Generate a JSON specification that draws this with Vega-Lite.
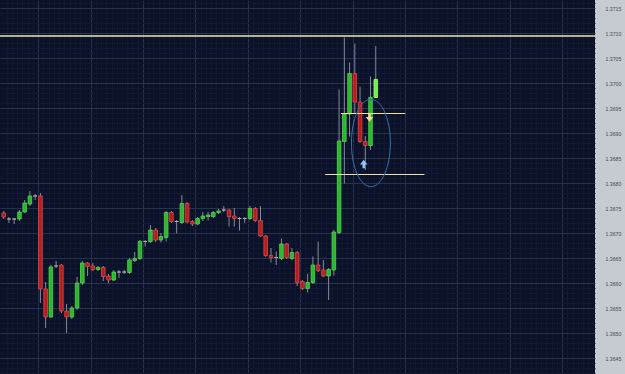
{
  "$schema": "https://vega.github.io/schema/vega-lite/v6.json",
  "width": 595,
  "height": 374,
  "autosize": "none",
  "padding": {"left": 0, "top": 0, "right": 30, "bottom": 0},
  "background": "#c6cad1",
  "view": {"fill": "#0a1128", "stroke": null},
  "resolve": {"axis": {"x": "independent", "y": "independent"}},
  "datasets": {
    "candles": [
      {"t":0,"o":1.36740,"h":1.36744,"l":1.36728,"c":1.36732,"d":"down"},
      {"t":1,"o":1.36728,"h":1.36732,"l":1.36720,"c":1.36728,"d":"flat"},
      {"t":2,"o":1.36728,"h":1.36730,"l":1.36718,"c":1.36728,"d":"flat"},
      {"t":3,"o":1.36728,"h":1.36746,"l":1.36724,"c":1.36742,"d":"up"},
      {"t":4,"o":1.36742,"h":1.36766,"l":1.36740,"c":1.36760,"d":"up"},
      {"t":5,"o":1.36758,"h":1.36784,"l":1.36754,"c":1.36774,"d":"up"},
      {"t":6,"o":1.36774,"h":1.36778,"l":1.36766,"c":1.36774,"d":"flat"},
      {"t":7,"o":1.36774,"h":1.36780,"l":1.36560,"c":1.36588,"d":"down"},
      {"t":8,"o":1.36588,"h":1.36602,"l":1.36510,"c":1.36532,"d":"down"},
      {"t":9,"o":1.36532,"h":1.36636,"l":1.36530,"c":1.36632,"d":"up"},
      {"t":10,"o":1.36634,"h":1.36644,"l":1.36630,"c":1.36634,"d":"flat"},
      {"t":11,"o":1.36636,"h":1.36638,"l":1.36540,"c":1.36544,"d":"down"},
      {"t":12,"o":1.36544,"h":1.36558,"l":1.36500,"c":1.36532,"d":"down"},
      {"t":13,"o":1.36532,"h":1.36554,"l":1.36528,"c":1.36550,"d":"up"},
      {"t":14,"o":1.36550,"h":1.36612,"l":1.36546,"c":1.36600,"d":"up"},
      {"t":15,"o":1.36600,"h":1.36644,"l":1.36596,"c":1.36640,"d":"up"},
      {"t":16,"o":1.36640,"h":1.36642,"l":1.36614,"c":1.36633,"d":"down"},
      {"t":17,"o":1.36634,"h":1.36640,"l":1.36624,"c":1.36627,"d":"down"},
      {"t":18,"o":1.36627,"h":1.36634,"l":1.36624,"c":1.36631,"d":"up"},
      {"t":19,"o":1.36631,"h":1.36634,"l":1.36604,"c":1.36613,"d":"down"},
      {"t":20,"o":1.36614,"h":1.36618,"l":1.36600,"c":1.36606,"d":"down"},
      {"t":21,"o":1.36606,"h":1.36626,"l":1.36604,"c":1.36622,"d":"up"},
      {"t":22,"o":1.36622,"h":1.36626,"l":1.36610,"c":1.36622,"d":"flat"},
      {"t":23,"o":1.36622,"h":1.36626,"l":1.36618,"c":1.36622,"d":"flat"},
      {"t":24,"o":1.36621,"h":1.36650,"l":1.36618,"c":1.36646,"d":"up"},
      {"t":25,"o":1.36645,"h":1.36662,"l":1.36642,"c":1.36649,"d":"up"},
      {"t":26,"o":1.36649,"h":1.36686,"l":1.36646,"c":1.36683,"d":"up"},
      {"t":27,"o":1.36683,"h":1.36686,"l":1.36673,"c":1.36683,"d":"flat"},
      {"t":28,"o":1.36683,"h":1.36716,"l":1.36680,"c":1.36706,"d":"up"},
      {"t":29,"o":1.36706,"h":1.36710,"l":1.36682,"c":1.36686,"d":"down"},
      {"t":30,"o":1.36686,"h":1.36700,"l":1.36681,"c":1.36693,"d":"up"},
      {"t":31,"o":1.36691,"h":1.36744,"l":1.36683,"c":1.36741,"d":"up"},
      {"t":32,"o":1.36741,"h":1.36744,"l":1.36720,"c":1.36723,"d":"down"},
      {"t":33,"o":1.36723,"h":1.36726,"l":1.36699,"c":1.36723,"d":"flat"},
      {"t":34,"o":1.36721,"h":1.36776,"l":1.36718,"c":1.36759,"d":"up"},
      {"t":35,"o":1.36759,"h":1.36762,"l":1.36719,"c":1.36722,"d":"down"},
      {"t":36,"o":1.36723,"h":1.36726,"l":1.36714,"c":1.36718,"d":"down"},
      {"t":37,"o":1.36718,"h":1.36732,"l":1.36716,"c":1.36729,"d":"up"},
      {"t":38,"o":1.36729,"h":1.36742,"l":1.36724,"c":1.36734,"d":"up"},
      {"t":39,"o":1.36733,"h":1.36742,"l":1.36725,"c":1.36736,"d":"up"},
      {"t":40,"o":1.36733,"h":1.36744,"l":1.36730,"c":1.36741,"d":"up"},
      {"t":41,"o":1.36741,"h":1.36748,"l":1.36738,"c":1.36744,"d":"up"},
      {"t":42,"o":1.36746,"h":1.36754,"l":1.36742,"c":1.36746,"d":"flat"},
      {"t":43,"o":1.36746,"h":1.36748,"l":1.36713,"c":1.36733,"d":"down"},
      {"t":44,"o":1.36734,"h":1.36750,"l":1.36713,"c":1.36729,"d":"down"},
      {"t":45,"o":1.36729,"h":1.36732,"l":1.36705,"c":1.36729,"d":"flat"},
      {"t":46,"o":1.36729,"h":1.36732,"l":1.36720,"c":1.36729,"d":"flat"},
      {"t":47,"o":1.36729,"h":1.36754,"l":1.36726,"c":1.36749,"d":"up"},
      {"t":48,"o":1.36749,"h":1.36752,"l":1.36722,"c":1.36725,"d":"down"},
      {"t":49,"o":1.36725,"h":1.36754,"l":1.36692,"c":1.36694,"d":"down"},
      {"t":50,"o":1.36694,"h":1.36696,"l":1.36652,"c":1.36655,"d":"down"},
      {"t":51,"o":1.36655,"h":1.36670,"l":1.36641,"c":1.36651,"d":"down"},
      {"t":52,"o":1.36651,"h":1.36663,"l":1.36636,"c":1.36651,"d":"flat"},
      {"t":53,"o":1.36649,"h":1.36689,"l":1.36646,"c":1.36678,"d":"up"},
      {"t":54,"o":1.36678,"h":1.36680,"l":1.36648,"c":1.36651,"d":"down"},
      {"t":55,"o":1.36649,"h":1.36670,"l":1.36646,"c":1.36661,"d":"up"},
      {"t":56,"o":1.36661,"h":1.36664,"l":1.36594,"c":1.36601,"d":"down"},
      {"t":57,"o":1.36603,"h":1.36606,"l":1.36586,"c":1.36589,"d":"down"},
      {"t":58,"o":1.36589,"h":1.36618,"l":1.36581,"c":1.36601,"d":"up"},
      {"t":59,"o":1.36601,"h":1.36653,"l":1.36598,"c":1.36636,"d":"up"},
      {"t":60,"o":1.36636,"h":1.36683,"l":1.36622,"c":1.36625,"d":"down"},
      {"t":61,"o":1.36626,"h":1.36646,"l":1.36612,"c":1.36614,"d":"down"},
      {"t":62,"o":1.36614,"h":1.36630,"l":1.36566,"c":1.36627,"d":"up"},
      {"t":63,"o":1.36626,"h":1.36706,"l":1.36615,"c":1.36702,"d":"up"},
      {"t":64,"o":1.36701,"h":1.36987,"l":1.36698,"c":1.36884,"d":"up"},
      {"t":65,"o":1.36883,"h":1.37091,"l":1.36799,"c":1.36938,"d":"up"},
      {"t":66,"o":1.36938,"h":1.37041,"l":1.36893,"c":1.37019,"d":"up"},
      {"t":67,"o":1.37019,"h":1.37079,"l":1.36939,"c":1.36962,"d":"down"},
      {"t":68,"o":1.36962,"h":1.36993,"l":1.36880,"c":1.36883,"d":"down"},
      {"t":69,"o":1.36883,"h":1.36894,"l":1.36826,"c":1.36875,"d":"down"},
      {"t":70,"o":1.36875,"h":1.37013,"l":1.36866,"c":1.36971,"d":"up"},
      {"t":71,"o":1.36971,"h":1.37074,"l":1.36970,"c":1.37007,"d":"last"}
    ],
    "levels": [
      {"y":1.37094},
      {"y":1.36939,"t":64.35,"t2":76.66},
      {"y":1.36817,"t":61.35,"t2":80.3}
    ],
    "marks": [
      {"kind":"ellipse","t":70.07,"y":1.36880},
      {"kind":"down","t":69.8,"y":1.36931},
      {"kind":"up","t":68.7,"y":1.36838}
    ]
  },
  "layer": [
    {
      "data": {"name": "candles"},
      "mark": {"type": "rule", "color": "#848b9a", "strokeWidth": 1},
      "encoding": {
        "x": {
          "field": "t", "type": "quantitative", "title": null,
          "scale": {"domain": [0.244, 111.88], "nice": false, "zero": false},
          "axis": {
            "orient": "bottom", "labels": false, "ticks": false, "domain": false, "title": null,
            "grid": true,
            "values": [0.57,1.57,2.57,3.57,4.57,5.57,6.57,7.57,8.57,9.57,10.57,11.57,12.57,13.57,14.57,15.57,16.57,17.57,18.57,19.57,20.57,21.57,22.57,23.57,24.57,25.57,26.57,27.57,28.57,29.57,30.57,31.57,32.57,33.57,34.57,35.57,36.57,37.57,38.57,39.57,40.57,41.57,42.57,43.57,44.57,45.57,46.57,47.57,48.57,49.57,50.57,51.57,52.57,53.57,54.57,55.57,56.57,57.57,58.57,59.57,60.57,61.57,62.57,63.57,64.57,65.57,66.57,67.57,68.57,69.57,70.57,71.57,72.57,73.57,74.57,75.57,76.57,77.57,78.57,79.57,80.57,81.57,82.57,83.57,84.57,85.57,86.57,87.57,88.57,89.57,90.57,91.57,92.57,93.57,94.57,95.57,96.57,97.57,98.57,99.57,100.57,101.57,102.57,103.57,104.57,105.57,106.57,107.57,108.57,109.57,110.57,111.57],
            "gridColor": {"condition": {"test": "abs((datum.value - 6.57) / 10 - round((datum.value - 6.57) / 10)) < 0.01", "value": "#27324e"}, "value": "#111930"},
            "gridWidth": 1
          }
        },
        "y": {
          "field": "l", "type": "quantitative", "title": null,
          "scale": {"domain": [1.36418, 1.37166], "nice": false, "zero": false},
          "axis": {
            "orient": "right", "ticks": false, "domain": false, "title": null,
            "grid": true,
            "values": [1.3642,1.3643,1.3644,1.3645,1.3646,1.3647,1.3648,1.3649,1.365,1.3651,1.3652,1.3653,1.3654,1.3655,1.3656,1.3657,1.3658,1.3659,1.366,1.3661,1.3662,1.3663,1.3664,1.3665,1.3666,1.3667,1.3668,1.3669,1.367,1.3671,1.3672,1.3673,1.3674,1.3675,1.3676,1.3677,1.3678,1.3679,1.368,1.3681,1.3682,1.3683,1.3684,1.3685,1.3686,1.3687,1.3688,1.3689,1.369,1.3691,1.3692,1.3693,1.3694,1.3695,1.3696,1.3697,1.3698,1.3699,1.37,1.3701,1.3702,1.3703,1.3704,1.3705,1.3706,1.3707,1.3708,1.3709,1.371,1.3711,1.3712,1.3713,1.3714,1.3715,1.3716],
            "gridColor": {"condition": {"test": "abs(datum.value * 2000 - round(datum.value * 2000)) < 0.01", "value": "#27324e"}, "value": "#111930"},
            "gridWidth": 1,
            "labelExpr": "abs(datum.value * 2000 - round(datum.value * 2000)) < 0.01 ? format(datum.value, '.4f') : ''",
            "labelOverlap": false,
            "labelPadding": 10,
            "labelAlign": "left",
            "labelBaseline": "middle",
            "labelFont": "Liberation Sans",
            "labelFontSize": 5.2,
            "labelColor": "#454a55"
          }
        },
        "y2": {"field": "h"}
      }
    },
    {
      "data": {"name": "candles"},
      "mark": {"type": "bar", "size": 3.6, "strokeWidth": 0.8},
      "encoding": {
        "x": {"field": "t", "type": "quantitative", "axis": null},
        "y": {"field": "o", "type": "quantitative", "axis": null},
        "y2": {"field": "c"},
        "fill": {"field": "d", "type": "nominal", "legend": null,
          "scale": {"domain": ["up", "down", "flat", "last"], "range": ["#2db52d", "#b51c1c", "#b4b6ba", "#6cf046"]}},
        "stroke": {"field": "d", "type": "nominal", "legend": null,
          "scale": {"domain": ["up", "down", "flat", "last"], "range": ["#55d455", "#e04a4a", "#b4b6ba", "#a6ff88"]}}
      }
    },
    {
      "data": {"name": "levels"},
      "transform": [{"filter": "datum.t == null"}],
      "mark": {"type": "rule", "color": "#efe7ad", "strokeWidth": 1.5},
      "encoding": {
        "y": {"field": "y", "type": "quantitative", "axis": null}
      }
    },
    {
      "data": {"name": "levels"},
      "transform": [{"filter": "datum.t != null"}],
      "mark": {"type": "rule", "color": "#ebe49e", "strokeWidth": 1.2},
      "encoding": {
        "x": {"field": "t", "type": "quantitative", "axis": null},
        "x2": {"field": "t2"},
        "y": {"field": "y", "type": "quantitative", "axis": null}
      }
    },
    {
      "data": {"name": "marks"},
      "transform": [{"filter": "datum.kind == 'ellipse'"}],
      "mark": {"type": "point", "shape": "M -0.446 0 A 0.446 1 0 1 1 0.446 0 A 0.446 1 0 1 1 -0.446 0 Z", "size": 7638, "filled": false, "stroke": "#3b6ea6", "strokeWidth": 1, "opacity": 1},
      "encoding": {
        "x": {"field": "t", "type": "quantitative", "axis": null},
        "y": {"field": "y", "type": "quantitative", "axis": null}
      }
    },
    {
      "data": {"name": "marks"},
      "transform": [{"filter": "datum.kind == 'down'"}],
      "mark": {"type": "point", "shape": "M 0 1 L 0.9 -0.1 L 0.3 -0.1 L 0.3 -1 L -0.3 -1 L -0.3 -0.1 L -0.9 -0.1 Z", "size": 70, "filled": true, "fill": "#f2d998", "opacity": 1},
      "encoding": {
        "x": {"field": "t", "type": "quantitative", "axis": null},
        "y": {"field": "y", "type": "quantitative", "axis": null}
      }
    },
    {
      "data": {"name": "marks"},
      "transform": [{"filter": "datum.kind == 'up'"}],
      "mark": {"type": "point", "shape": "M 0 -1 L 0.9 0.1 L 0.3 0.1 L 0.3 1 L -0.3 1 L -0.3 0.1 L -0.9 0.1 Z", "size": 70, "filled": true, "fill": "#8cc6f7", "opacity": 1},
      "encoding": {
        "x": {"field": "t", "type": "quantitative", "axis": null},
        "y": {"field": "y", "type": "quantitative", "axis": null}
      }
    }
  ]
}
